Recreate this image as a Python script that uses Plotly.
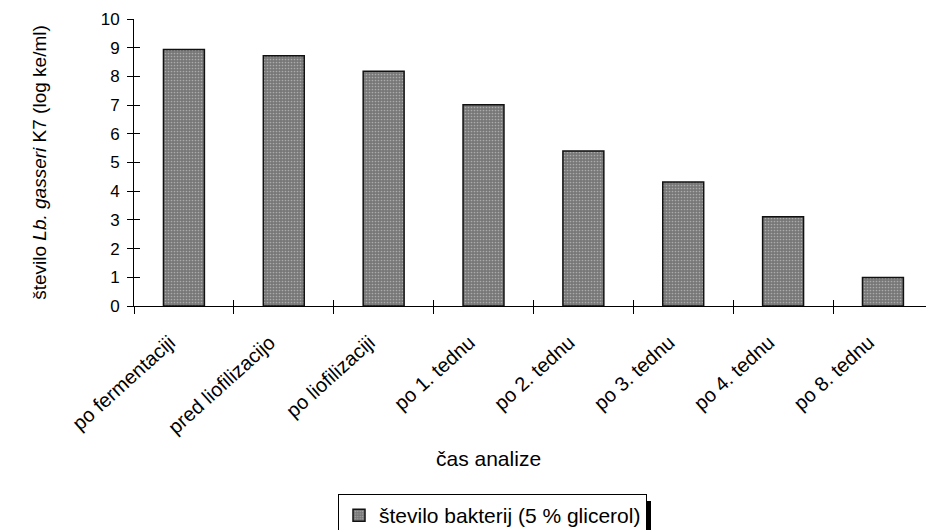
import plotly.graph_objects as go

# Viable count of Lb. gasseri K7 across the sampling points
categories = [
    "po fermentaciji",
    "pred liofilizacijo",
    "po liofilizaciji",
    "po 1. tednu",
    "po 2. tednu",
    "po 3. tednu",
    "po 4. tednu",
    "po 8. tednu",
]
log_counts = [8.94, 8.72, 8.18, 7.01, 5.40, 4.32, 3.11, 0.99]
y_ticks = list(range(0, 11))
series_name = "število bakterij (5 % glicerol)"
x_title = "čas analize"
y_title = "število <i>Lb. gasseri</i> K7 (log ke/ml)"

FONT = "Arial, Liberation Sans, sans-serif"

W, H = 926, 530
ML, MT, MB = 134, 19, 224
PLOT_H = H - MT - MB
cat_px = 99.86
x_hi = -0.5 + (W - ML) / cat_px


def px_to_paper_x(px):
    return (px - ML) / (W - ML)


def px_to_paper_y(py):
    return (H - MB - py) / PLOT_H


fig = go.Figure()
fig.add_trace(go.Bar(
    x=categories,
    y=log_counts,
    name=series_name,
    width=0.41,
    marker=dict(
        color="#777777",
        line=dict(color="#111111", width=1.5),
        pattern=dict(shape=".", bgcolor="#777777", fgcolor="#ababab",
                     size=3, solidity=0.25, fillmode="replace"),
    ),
    showlegend=True,
))

# Invisible carrier so the overlay tick axes are drawn
fig.add_trace(go.Scatter(x=[-0.5], y=[0], xaxis="x2", yaxis="y2",
                         mode="markers", marker=dict(opacity=0),
                         showlegend=False, hoverinfo="skip"))

axis_line = dict(showline=True, linecolor="#000000", linewidth=1)

fig.update_layout(
    width=W, height=H,
    margin=dict(l=ML, r=0, t=MT, b=MB),
    paper_bgcolor="white", plot_bgcolor="white",
    font=dict(family=FONT, size=17, color="#000000"),
    showlegend=True,
    xaxis=dict(
        type="category",
        categoryorder="array", categoryarray=categories,
        range=[-0.5, x_hi],
        tickson="boundaries",
        ticks="outside", ticklen=7, tickwidth=1, tickcolor="#000000",
        tickangle=-42,
        ticklabelstandoff=16,
        ticklabelshift=-14,
        tickfont=dict(family=FONT, size=20),
        showgrid=False, zeroline=False,
        automargin=False,
        **axis_line,
    ),
    xaxis2=dict(
        overlaying="x", anchor="y", side="bottom",
        range=[-0.5, x_hi],
        tickmode="array", tickvals=[i - 0.5 for i in range(len(categories) + 1)],
        ticks="inside", ticklen=6, tickwidth=1, tickcolor="#000000",
        showticklabels=False, showgrid=False, zeroline=False, showline=False,
    ),
    yaxis=dict(
        range=[0, 10],
        tickmode="array", tickvals=y_ticks,
        ticks="outside", ticklen=6, tickwidth=1, tickcolor="#000000",
        ticklabelstandoff=4,
        tickfont=dict(family=FONT, size=17),
        showgrid=False, zeroline=False,
        title=dict(text=y_title, font=dict(family=FONT, size=19), standoff=49),
        automargin=False,
        **axis_line,
    ),
    yaxis2=dict(
        overlaying="y", anchor="x", side="left",
        range=[0, 10],
        tickmode="array", tickvals=y_ticks,
        ticks="inside", ticklen=6, tickwidth=1, tickcolor="#000000",
        showticklabels=False, showgrid=False, zeroline=False, showline=False,
    ),
    legend=dict(
        xref="container", yref="container",
        x=647 / W, y=1 - 494 / H, xanchor="right", yanchor="top",
        orientation="h",
        bordercolor="#000000", borderwidth=1, bgcolor="white",
        font=dict(family=FONT, size=21),
        itemwidth=30,
    ),
    annotations=[dict(
        text=x_title, showarrow=False,
        xref="paper", yref="paper",
        x=px_to_paper_x(488), y=px_to_paper_y(459),
        xanchor="center", yanchor="middle",
        font=dict(family=FONT, size=21),
    )],
    shapes=[dict(
        type="rect", xref="paper", yref="paper", layer="above",
        x0=px_to_paper_x(647), x1=px_to_paper_x(651),
        y0=px_to_paper_y(501), y1=px_to_paper_y(532),
        fillcolor="#000000", line=dict(width=0),
    )],
)

fig.write_html("out.html")
